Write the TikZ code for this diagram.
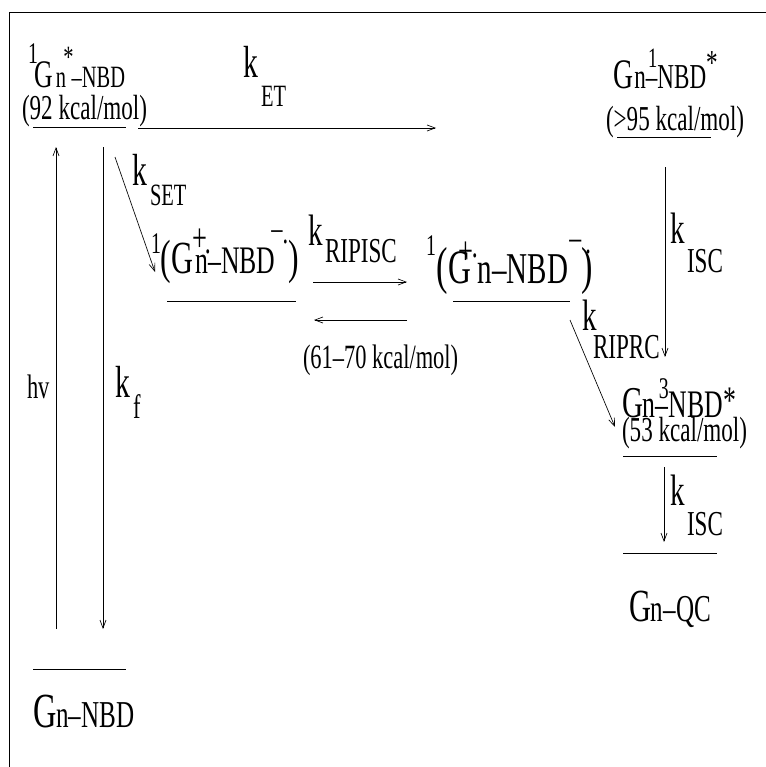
\documentclass[tikz,border=0pt]{standalone}
\usepackage{fontspec}
\setmainfont{Liberation Serif}[FakeStretch=0.66]
\usetikzlibrary{arrows.meta}
% font size given in drawing units (1 unit = 0.75pt)
\newcommand\fsz[1]{\fontsize{\fpeval{#1*0.75}pt}{\fpeval{#1*0.9}pt}\selectfont}
\begin{document}
\begin{tikzpicture}[x=0.75pt,y=-0.75pt,
  lbl/.style={anchor=base west,inner sep=0pt,outer sep=0pt},
  level/.style={line width=0.7pt},
  arr/.style={line width=0.5pt,-{Straight Barb[length=6pt,width=4.5pt]}},
  frame/.style={line width=0.7pt}]
\useasboundingbox (0,0) rectangle (766,767);
\draw[frame] (9,767) -- (9,12) -- (766,12);

% ---- singlet excited state (left top)
\node[lbl] (s1) at (28,88) {\raisebox{18pt}{\fsz{30}1}\kern-2.5pt\fsz{39}G\fsz{31}\kern2pt n\kern-2pt\raisebox{15pt}{*}\kern-1.5pt–NBD};
\node[lbl] (s1e) at (22,119) {\fsz{35}(92 kcal/mol)};
\coordinate (s1L) at (33,127); \coordinate (s1R) at (126,127);
\draw[level] (s1L) -- (s1R);

% ---- energy transfer
\coordinate (etA) at (138,128); \coordinate (etB) at (436,128);
\draw[arr] (etA) -- (etB);
\node[lbl] (kET) at (243,78) {\fsz{45}k};
\node[lbl] (kETs) at (261,107) {\fsz{31}ET};

% ---- NBD singlet (right top)
\node[lbl] (n1) at (613,89) {\fsz{42}G\fsz{35}\kern1pt n–\llap{\raisebox{16pt}{\fsz{28}1}}NBD\raisebox{10.5pt}{*}};
\node[lbl] (n1e) at (606,130) {\fsz{35}(>95 kcal/mol)};
\coordinate (n1L) at (617,137); \coordinate (n1R) at (711,137);
\draw[level] (n1L) -- (n1R);

% ---- absorption and fluorescence
\coordinate (hvA) at (56,629); \coordinate (hvB) at (56,147);
\draw[arr] (hvA) -- (hvB);
\node[lbl] (hv) at (27,398) {\fsz{34}hv};
\coordinate (kfA) at (103,147); \coordinate (kfB) at (103,629);
\draw[arr] (kfA) -- (kfB);
\node[lbl] (kf) at (115,397) {\fsz{45}k};
\node[lbl] (kfs) at (133,418) {\fsz{34}f};

% ---- single electron transfer
\coordinate (setA) at (115,157); \coordinate (setB) at (155,272);
\draw[arr] (setA) -- (setB);
\node[lbl] (kSET) at (132,185) {\fsz{45}k};
\node[lbl] (kSETs) at (150,205) {\fsz{31}SET};

% ---- radical ion pairs
\node[lbl] (rpL) at (151,273) {\raisebox{15pt}{\fsz{30}1}\kern0pt\fsz{48}(\fsz{46}G\rlap{\kern-1pt\raisebox{16pt}{\fsz{40}+}\kern-1.5pt\raisebox{15pt}{\fsz{36}.}}\kern1.5pt\fsz{39}n–NBD\kern-3pt\raisebox{25pt}{\fsz{34}–}\raisebox{22pt}{\fsz{34}.}\fsz{48})};
\coordinate (rpLL) at (167,301); \coordinate (rpLR) at (296,301);
\draw[level] (rpLL) -- (rpLR);

\node[lbl] (rpR) at (426,283) {\raisebox{21pt}{\fsz{30}1}\kern0.5pt\fsz{52}(\fsz{48}G\kern-9pt\raisebox{14pt}{\fsz{40}+}\kern-1.5pt\raisebox{19pt}{\fsz{36}.}\fsz{44}n–NBD\kern1pt\raisebox{25pt}{\fsz{36}–}\rlap{\kern3pt\raisebox{22pt}{\fsz{34}.}}\fsz{52})};
\coordinate (rpRL) at (453,301); \coordinate (rpRR) at (570,301);
\draw[level] (rpRL) -- (rpRR);

% ---- RIP intersystem crossing (both directions)
\coordinate (ripA) at (313,282); \coordinate (ripB) at (407,282);
\draw[arr] (ripA) -- (ripB);
\coordinate (ripC) at (407,320); \coordinate (ripD) at (314,320);
\draw[arr] (ripC) -- (ripD);
\node[lbl] (kRIP) at (308,245) {\fsz{44}k};
\node[lbl] (kRIPs) at (325,262) {\fsz{35}RIPISC};
\node[lbl] (ripE) at (303,368) {\fsz{34}(61–70 kcal/mol)};

% ---- recombination to the triplet
\coordinate (rcA) at (570,320); \coordinate (rcB) at (615,427);
\draw[arr] (rcA) -- (rcB);
\node[lbl] (kRC) at (582,330) {\fsz{44}k};
\node[lbl] (kRCs) at (593,358) {\fsz{35}RIPRC};

% ---- intersystem crossing singlet -> triplet
\coordinate (iscA) at (665,167); \coordinate (iscB) at (665,357);
\draw[arr] (iscA) -- (iscB);
\node[lbl] (kISC) at (670,243) {\fsz{44}k};
\node[lbl] (kISCs) at (687,272) {\fsz{35}ISC};

% ---- NBD triplet
\node[lbl] (n3) at (622,417) {\fsz{44}G\fsz{39}n–\llap{\raisebox{14pt}{\fsz{30}3}}NBD\raisebox{3pt}{*}};
\node[lbl] (n3e) at (622,441) {\fsz{35}(53 kcal/mol)};
\coordinate (n3L) at (623,456); \coordinate (n3R) at (717,456);
\draw[level] (n3L) -- (n3R);

% ---- triplet -> quadricyclane
\coordinate (qA) at (664,467); \coordinate (qB) at (664,542);
\draw[arr] (qA) -- (qB);
\node[lbl] (kQ) at (670,505) {\fsz{44}k};
\node[lbl] (kQs) at (687,535) {\fsz{35}ISC};
\coordinate (qcL) at (623,553); \coordinate (qcR) at (717,553);
\draw[level] (qcL) -- (qcR);
\node[lbl] (qc) at (629,621) {\fsz{46}G\fsz{38}n–QC};

% ---- ground state
\coordinate (gsL) at (33,669); \coordinate (gsR) at (126,669);
\draw[level] (gsL) -- (gsR);
\node[lbl] (gs) at (33,727) {\fsz{49}G\fsz{38}n–NBD};
\end{tikzpicture}
\end{document}
